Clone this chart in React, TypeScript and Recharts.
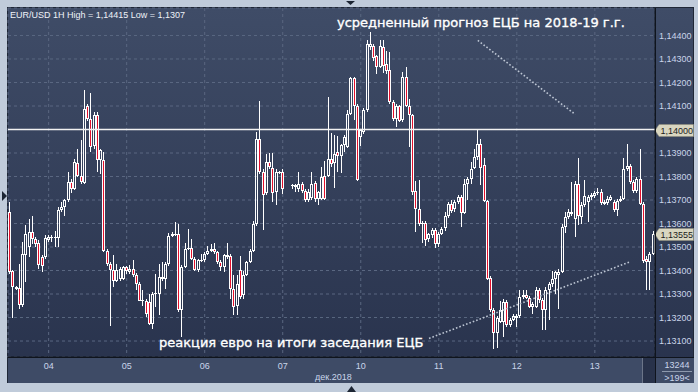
import React from 'react';
import { ComposedChart, Bar, XAxis, YAxis, CartesianGrid, ReferenceLine } from 'recharts';

// one hourly candle: [open, high, low, close]; null = no quotes that hour
type Ohlc = [number, number, number, number] | null;

const dec03: Ohlc[] = [
  [1.13648, 1.13691, 1.13386, 1.13393], [1.13396, 1.13403, 1.13199, 1.13329], [1.13329, 1.13336, 1.13315, 1.13322],
  [1.13325, 1.13428, 1.13237, 1.13254], [1.13254, 1.13521, 1.13244, 1.13471], [1.13467, 1.13594, 1.1335, 1.13556],
  [1.135, 1.1362, 1.13457, 1.13563], [1.13563, 1.13634, 1.13513, 1.13535], [1.13535, 1.13542, 1.13499, 1.13513],
  [1.13516, 1.13528, 1.13407, 1.13424], [1.13457, 1.13464, 1.13393, 1.13421], [1.13457, 1.13549, 1.1345, 1.13538],
];

const dec04: Ohlc[] = [
  [1.13528, 1.13549, 1.13521, 1.13542], [1.13542, 1.13552, 1.13521, 1.13539], [1.13539, 1.13567, 1.13499, 1.13542],
  [1.13539, 1.1367, 1.13499, 1.13658], [1.13658, 1.13691, 1.13648, 1.1367], [1.1367, 1.13705, 1.13634, 1.13698],
  [1.13698, 1.13818, 1.13691, 1.13776], [1.13776, 1.1379, 1.13729, 1.13748], [1.13748, 1.13875, 1.13741, 1.13861],
  [1.13858, 1.13918, 1.13797, 1.13804], [1.13804, 1.13956, 1.13769, 1.13776], [1.13773, 1.14166, 1.13769, 1.14088],
  [1.14098, 1.14109, 1.14038, 1.14045], [1.14045, 1.14155, 1.13904, 1.13925], [1.13929, 1.14074, 1.13918, 1.1406],
  [1.1406, 1.14074, 1.13818, 1.13871], [1.13871, 1.13918, 1.13811, 1.13911], [1.13871, 1.13904, 1.13478, 1.13485],
  [1.13485, 1.13492, 1.13421, 1.13428], [1.13428, 1.13435, 1.13166, 1.13403], [1.13403, 1.13464, 1.13329, 1.13357],
  [1.13357, 1.13428, 1.1335, 1.13403], [1.13365, 1.13414, 1.13357, 1.13407], [1.13365, 1.13421, 1.1336, 1.13414],
];

const dec05: Ohlc[] = [
  [1.13414, 1.13421, 1.13386, 1.13397], [1.13393, 1.13424, 1.13386, 1.13407], [1.13407, 1.13443, 1.13372, 1.13383],
  [1.13383, 1.13389, 1.13315, 1.13343], [1.13343, 1.1335, 1.1327, 1.13272], [1.13275, 1.13315, 1.13251, 1.1327],
  [1.13272, 1.13279, 1.13201, 1.13216], [1.13265, 1.13301, 1.1317, 1.13173], [1.13173, 1.13308, 1.13152, 1.13301],
  [1.13301, 1.13386, 1.13244, 1.13304], [1.13301, 1.13428, 1.13209, 1.13372], [1.13372, 1.13435, 1.13357, 1.13365],
  [1.13365, 1.13435, 1.13322, 1.13428], [1.13428, 1.1356, 1.13421, 1.13545], [1.13545, 1.13563, 1.13542, 1.13556],
  [1.13549, 1.13606, 1.13545, 1.13556], [1.13556, 1.13599, 1.13223, 1.1323], [1.1323, 1.13425, 1.13116, 1.13417],
  [1.13417, 1.13516, 1.13411, 1.13492], [1.13492, 1.13577, 1.13488, 1.13496], [1.13496, 1.13535, 1.13443, 1.1345],
  [1.1345, 1.13457, 1.13397, 1.13403], [1.13403, 1.1345, 1.13393, 1.13443], [1.13443, 1.13471, 1.13435, 1.13445],
];

const dec06: Ohlc[] = [
  [1.13443, 1.13478, 1.13435, 1.13471], [1.13471, 1.13506, 1.13464, 1.13485], [1.13485, 1.13513, 1.13478, 1.13492],
  [1.13492, 1.13516, 1.13471, 1.13478], [1.13478, 1.13485, 1.13428, 1.13435], [1.13435, 1.13443, 1.134, 1.13414],
  [1.13414, 1.13471, 1.13393, 1.13464], [1.13467, 1.13516, 1.1345, 1.13457], [1.1346, 1.13471, 1.13279, 1.13322],
  [1.13322, 1.13379, 1.13209, 1.13244], [1.13251, 1.13379, 1.13209, 1.13343], [1.13403, 1.1346, 1.1328, 1.13289],
  [1.13294, 1.134, 1.1328, 1.13382], [1.13383, 1.1344, 1.13375, 1.13435], [1.13435, 1.1349, 1.1343, 1.13485],
  [1.13485, 1.1361, 1.1348, 1.13596], [1.13596, 1.13991, 1.1359, 1.1396], [1.1396, 1.14121, 1.1381, 1.13818],
  [1.13818, 1.1383, 1.13573, 1.13723], [1.13729, 1.13896, 1.1372, 1.13861], [1.13861, 1.13899, 1.1383, 1.1384],
  [1.13837, 1.13899, 1.13691, 1.13729], [1.13733, 1.1383, 1.13677, 1.13818], [1.13818, 1.13825, 1.1381, 1.13818],
];

const dec07: Ohlc[] = [
  [1.13818, 1.13833, 1.13727, 1.13748], null, null,
  [1.1376, 1.13769, 1.13748, 1.13762], [1.13762, 1.13769, 1.13733, 1.13755], [1.13748, 1.13818, 1.13733, 1.13769],
  [1.13769, 1.13775, 1.1373, 1.1374], [1.1374, 1.13745, 1.1369, 1.13698], [1.13698, 1.13745, 1.1369, 1.13733],
  [1.1371, 1.13821, 1.13698, 1.13769], [1.13773, 1.1378, 1.1369, 1.13705], [1.13705, 1.1374, 1.1368, 1.13733],
  [1.13705, 1.1384, 1.137, 1.138], [1.13804, 1.13868, 1.13698, 1.13705], [1.13804, 1.1414, 1.138, 1.13875],
  [1.13875, 1.13985, 1.1384, 1.13854], [1.13857, 1.13976, 1.13752, 1.13896], [1.13904, 1.13973, 1.13818, 1.13889],
  [1.13889, 1.1394, 1.13814, 1.13936], [1.13936, 1.13975, 1.13905, 1.13967], [1.13925, 1.14081, 1.1392, 1.14067],
  [1.14067, 1.14225, 1.1406, 1.1422], [1.1422, 1.14225, 1.1404, 1.14102], [1.14102, 1.1411, 1.1378, 1.13786],
];

const dec10: Ohlc[] = [
  [1.13967, 1.14, 1.13928, 1.13996], [1.13989, 1.1409, 1.1398, 1.14084], [1.14084, 1.1438, 1.14075, 1.14365],
  [1.14353, 1.14415, 1.1434, 1.14365], [1.14357, 1.14365, 1.1429, 1.14305], [1.14311, 1.14315, 1.14237, 1.14268],
  [1.14268, 1.14381, 1.1426, 1.14357], [1.1435, 1.14381, 1.1424, 1.14272], [1.14279, 1.14336, 1.14237, 1.14251],
  [1.14254, 1.1433, 1.1411, 1.14116], [1.14116, 1.14125, 1.14035, 1.14045], [1.14045, 1.1411, 1.1401, 1.141],
  [1.141, 1.14105, 1.1403, 1.14038], [1.1404, 1.14244, 1.1403, 1.14223], [1.14223, 1.14265, 1.14095, 1.14102],
  [1.14102, 1.1413, 1.13925, 1.1406], [1.1406, 1.14065, 1.1372, 1.13733], [1.1374, 1.13783, 1.13563, 1.13662],
  [1.13662, 1.13787, 1.1359, 1.13597], [1.13597, 1.1361, 1.13516, 1.13603], [1.13603, 1.1361, 1.13506, 1.13529],
  [1.13532, 1.1356, 1.1352, 1.13555], [1.1355, 1.1358, 1.1354, 1.13572], [1.13572, 1.1358, 1.13495, 1.13512],
];

const dec11: Ohlc[] = [
  [1.13512, 1.13565, 1.135, 1.13557], [1.13557, 1.13585, 1.1355, 1.13577], [1.13579, 1.1365, 1.1357, 1.13631],
  [1.13631, 1.1369, 1.13625, 1.13682], [1.13682, 1.137, 1.13645, 1.13654], [1.1366, 1.137, 1.1365, 1.13692],
  [1.13692, 1.1372, 1.13685, 1.13713], [1.13713, 1.1372, 1.13586, 1.13643], [1.13645, 1.1379, 1.1364, 1.13767],
  [1.13767, 1.138, 1.137, 1.1379], [1.1379, 1.1386, 1.1377, 1.1383], [1.13838, 1.13915, 1.1383, 1.13881],
  [1.13881, 1.14, 1.1387, 1.13938], [1.13938, 1.1396, 1.13763, 1.13838], [1.13848, 1.13877, 1.1369, 1.13696],
  [1.13696, 1.137, 1.1336, 1.13366], [1.1337, 1.13375, 1.13225, 1.13231], [1.13231, 1.1324, 1.13068, 1.13135],
  [1.13135, 1.13205, 1.1307, 1.13196], [1.13182, 1.1327, 1.13175, 1.13231], [1.13182, 1.1328, 1.13118, 1.13267],
  [1.13267, 1.13275, 1.1316, 1.1317], [1.1317, 1.132, 1.1316, 1.13191], [1.13191, 1.13215, 1.13185, 1.13206],
];

const dec12: Ohlc[] = [
  [1.132, 1.13215, 1.1316, 1.13206], [1.13206, 1.13319, 1.132, 1.13288], [1.13288, 1.13319, 1.1328, 1.13295],
  [1.13295, 1.13319, 1.1328, 1.13285], [1.13285, 1.1329, 1.1324, 1.13245], [1.13245, 1.13265, 1.13215, 1.13257],
  [1.13245, 1.1333, 1.1324, 1.13319], [1.13319, 1.13325, 1.1326, 1.13274], [1.13274, 1.13285, 1.13146, 1.13231],
  [1.13231, 1.1333, 1.13146, 1.13319], [1.13319, 1.1335, 1.13189, 1.13342], [1.13342, 1.134, 1.1333, 1.13362],
  [1.13362, 1.134, 1.133, 1.13394], [1.1338, 1.13405, 1.13238, 1.13394], [1.13394, 1.136, 1.1339, 1.13586],
  [1.13586, 1.1365, 1.1356, 1.13628], [1.13628, 1.1366, 1.1362, 1.1365], [1.1364, 1.13777, 1.1363, 1.1365],
  [1.13621, 1.1378, 1.13543, 1.1377], [1.1377, 1.13877, 1.13593, 1.13631], [1.13628, 1.1369, 1.136, 1.13678],
  [1.13678, 1.13787, 1.1367, 1.13716], [1.13692, 1.1372, 1.13607, 1.13713], [1.13711, 1.1373, 1.137, 1.13721],
];

const dec13: Ohlc[] = [
  [1.13716, 1.1374, 1.1371, 1.13728], [1.13728, 1.1375, 1.1372, 1.13735], [1.13735, 1.13745, 1.1368, 1.13688],
  [1.13692, 1.137, 1.13678, 1.13685], [1.13688, 1.13715, 1.1368, 1.13706], [1.13702, 1.1372, 1.13695, 1.13711],
  [1.13692, 1.137, 1.1365, 1.13657], [1.13657, 1.13705, 1.1363, 1.13696], [1.13696, 1.13715, 1.1369, 1.13706],
  [1.13706, 1.13877, 1.137, 1.1383], [1.1383, 1.13938, 1.13825, 1.13844], [1.13844, 1.13855, 1.1377, 1.13777],
  [1.13777, 1.13785, 1.1373, 1.13739], [1.13739, 1.138, 1.1373, 1.1379], [1.1379, 1.13915, 1.1368, 1.13685],
  [1.13685, 1.1369, 1.1343, 1.13441], [1.13451, 1.1346, 1.13319, 1.13437], [1.13437, 1.1348, 1.13319, 1.1347],
  [1.1347, 1.1357, 1.13465, 1.13555],
];

const sessions = [
  { day: '03', firstHour: 12, bars: dec03 },
  { day: '04', firstHour: 0, bars: dec04 },
  { day: '05', firstHour: 0, bars: dec05 },
  { day: '06', firstHour: 0, bars: dec06 },
  { day: '07', firstHour: 0, bars: dec07 },
  { day: '10', firstHour: 0, bars: dec10 },
  { day: '11', firstHour: 0, bars: dec11 },
  { day: '12', firstHour: 0, bars: dec12 },
  { day: '13', firstHour: 0, bars: dec13 },
];

const priceTicks = [1.131, 1.132, 1.133, 1.134, 1.135, 1.136, 1.137, 1.138, 1.139, 1.14, 1.141, 1.142, 1.143, 1.144];
const roundLevel = 1.14;
const lastPrice = 1.13555;

const headline = 'EUR/USD 1H High = 1,14415 Low = 1,1307';
const upperNote = 'усредненный прогноз ЕЦБ на 2018-19 г.г.';
const lowerNote = 'реакция евро на итоги заседания ЕЦБ';
const monthLabel = 'дек.2018';
const upperTrend = [{ x: '11 12', y: 1.14379 }, { x: '12 18', y: 1.14064 }];
const lowerTrend = [{ x: '10 21', y: 1.13111 }, { x: '13 11', y: 1.13438 }];

const hourKey = (day: string, h: number) => `${day} ${String(h).padStart(2, '0')}`;

const data = sessions.flatMap((s) =>
  s.bars.map((b, i) => ({
    t: hourKey(s.day, s.firstHour + i),
    o: b ? b[0] : null,
    h: b ? b[1] : null,
    l: b ? b[2] : null,
    c: b ? b[3] : null,
    range: b ? [b[2], b[1]] : null,
  })),
);
const dayTicks = sessions.slice(1).map((s) => hourKey(s.day, 0));

const fmt = (v: number) => v.toFixed(5).replace('.', ',');
const FONT = '"Liberation Sans", Arial, sans-serif';
const NOTE_FONT = '"DejaVu Sans", sans-serif';
const RED = '#e3102c';

function Candle(props: any) {
  const { x, y, width, height, payload } = props;
  if (!payload || payload.o == null || !isFinite(y) || !isFinite(height)) return null;
  const { o, h, l, c } = payload;
  const top0 = Math.min(y, y + height);
  const span = Math.abs(height);
  const yOf = (v: number) => (h === l ? top0 : top0 + ((h - v) / (h - l)) * span);
  const left = Math.round(x + width / 2 - 1.5);
  const mid = left + 1.5;
  const bTop = Math.round(yOf(Math.max(o, c)));
  const bBot = Math.round(yOf(Math.min(o, c)));
  const wTop = Math.round(yOf(h));
  const wBot = Math.round(yOf(l));
  const up = c >= o;
  return (
    <g>
      {wTop < bTop && <line x1={mid} x2={mid} y1={wTop} y2={bTop} stroke="#fff" strokeWidth={1} />}
      {wBot > bBot && <line x1={mid} x2={mid} y1={bBot} y2={wBot} stroke="#fff" strokeWidth={1} />}
      {bBot - bTop <= 1 ? (
        <line x1={left} x2={left + 3} y1={bTop + 0.5} y2={bTop + 0.5} stroke="#fff" strokeWidth={1} />
      ) : (
        <rect x={left + 0.5} y={bTop + 0.5} width={2} height={bBot - bTop - 1}
          fill={up ? 'none' : RED} stroke="#fff" strokeWidth={1} />
      )}
    </g>
  );
}

function PriceTag(props: any) {
  const { viewBox, text } = props;
  if (!viewBox) return null;
  const x0 = viewBox.x + viewBox.width;
  const yc = Math.round(viewBox.y) + 0.5;
  return (
    <g>
      <path d={`M${x0},${yc} L${x0 + 4},${yc - 6} H693.5 V${yc + 6} H${x0 + 4} Z`}
        fill="#d9d6c0" stroke="#8f8d7c" strokeWidth={0.6} />
      <text x={x0 + 5.5} y={yc + 3.3} fontSize={9} fill="#1c1c1c" fontFamily={FONT}>{text}</text>
    </g>
  );
}

export default function App() {
  return (
    <div style={{ position: 'fixed', left: 0, top: 0, width: 698, height: 392, background: '#c0cbda', overflow: 'hidden' }}>
      <div style={{
        position: 'absolute', left: 7, top: 7, width: 687, height: 376, boxSizing: 'border-box',
        border: '1px solid #1f2736', background: 'linear-gradient(to bottom, #3f4c67, #28324c)',
      }} />
      <div style={{ position: 'absolute', left: 8, top: 357, width: 686, height: 26, background: '#3e4b66' }} />
      <div style={{ position: 'absolute', left: 642, top: 358, width: 12, height: 25, background: '#28324a', borderLeft: '1px solid #6b7588' }} />

      <div style={{ position: 'absolute', left: 0, top: 0 }}>
        <ComposedChart width={698} height={392} data={data} barCategoryGap={0} barGap={0}
          margin={{ top: 8, right: 0, bottom: 0, left: 8 }}>
          <CartesianGrid stroke="#5a6781" strokeDasharray="3 3" />
          <XAxis dataKey="t" ticks={dayTicks} interval={0} height={35} tickLine={false} tickSize={0} tickMargin={6}
            axisLine={{ stroke: '#0f141d' }} tickFormatter={(v: string) => v.slice(0, 2)}
            tick={{ fill: '#c9d5ea', fontSize: 9, fontFamily: FONT }} />
          <YAxis orientation="right" width={43} type="number" domain={[1.13032, 1.14517]} allowDataOverflow
            ticks={priceTicks} interval={0} tickLine={false} tickSize={0} tickMargin={4}
            axisLine={{ stroke: '#0f141d' }} tickFormatter={(v: number) => (v === roundLevel ? '' : fmt(v))}
            tick={{ fill: '#c9d5ea', fontSize: 9, fontFamily: FONT }} />
          <Bar dataKey="range" isAnimationActive={false} shape={(p: any) => <Candle {...p} />} />
          <ReferenceLine y={roundLevel} stroke="#f2f2f2" strokeWidth={1.5} label={<PriceTag text={fmt(roundLevel)} />} />
          <ReferenceLine y={lastPrice} stroke="none" label={<PriceTag text={fmt(lastPrice)} />} />
          <ReferenceLine segment={upperTrend} stroke="#bcc5d3" strokeWidth={1.6} strokeDasharray="1.6 2" />
          <ReferenceLine segment={lowerTrend} stroke="#bcc5d3" strokeWidth={1.6} strokeDasharray="1.6 2" />
        </ComposedChart>
      </div>

      <svg width={698} height={392} style={{ position: 'absolute', left: 0, top: 0, pointerEvents: 'none' }}>
        <line x1={655.5} x2={655.5} y1={8} y2={383} stroke="#0f141d" />
        <line x1={8} x2={694} y1={357.5} y2={357.5} stroke="#0f141d" />
        <text x={10} y={18} fontSize={9} fill="#eef2f8" fontFamily={FONT}>{headline}</text>
        <text x={337} y={27} fontSize={13} fill="#ffffff" stroke="#ffffff" strokeWidth={0.35} fontFamily={NOTE_FONT}>{upperNote}</text>
        <text x={159} y={346.5} fontSize={13} fill="#ffffff" stroke="#ffffff" strokeWidth={0.35} fontFamily={NOTE_FONT}>{lowerNote}</text>
        <text x={315} y={380} fontSize={9} fill="#c9d5ea" fontFamily={FONT}>{monthLabel}</text>
        <text x={677} y={367.5} fontSize={9} fill="#c9d5ea" fontFamily={FONT} textAnchor="middle">13244</text>
        <line x1={662} x2={692} y1={371.5} y2={371.5} stroke="#8d99ad" />
        <text x={677} y={380.5} fontSize={9} fill="#c9d5ea" fontFamily={FONT} textAnchor="middle">{'>199<'}</text>
        <polygon points="346,1 355,1 350.5,5" fill="#1c2533" />
        <polygon points="347,392 356,392 351.5,386" fill="#1c2533" />
        <polygon points="2,191 2,201 7,196" fill="#1c2533" />
      </svg>
    </div>
  );
}
